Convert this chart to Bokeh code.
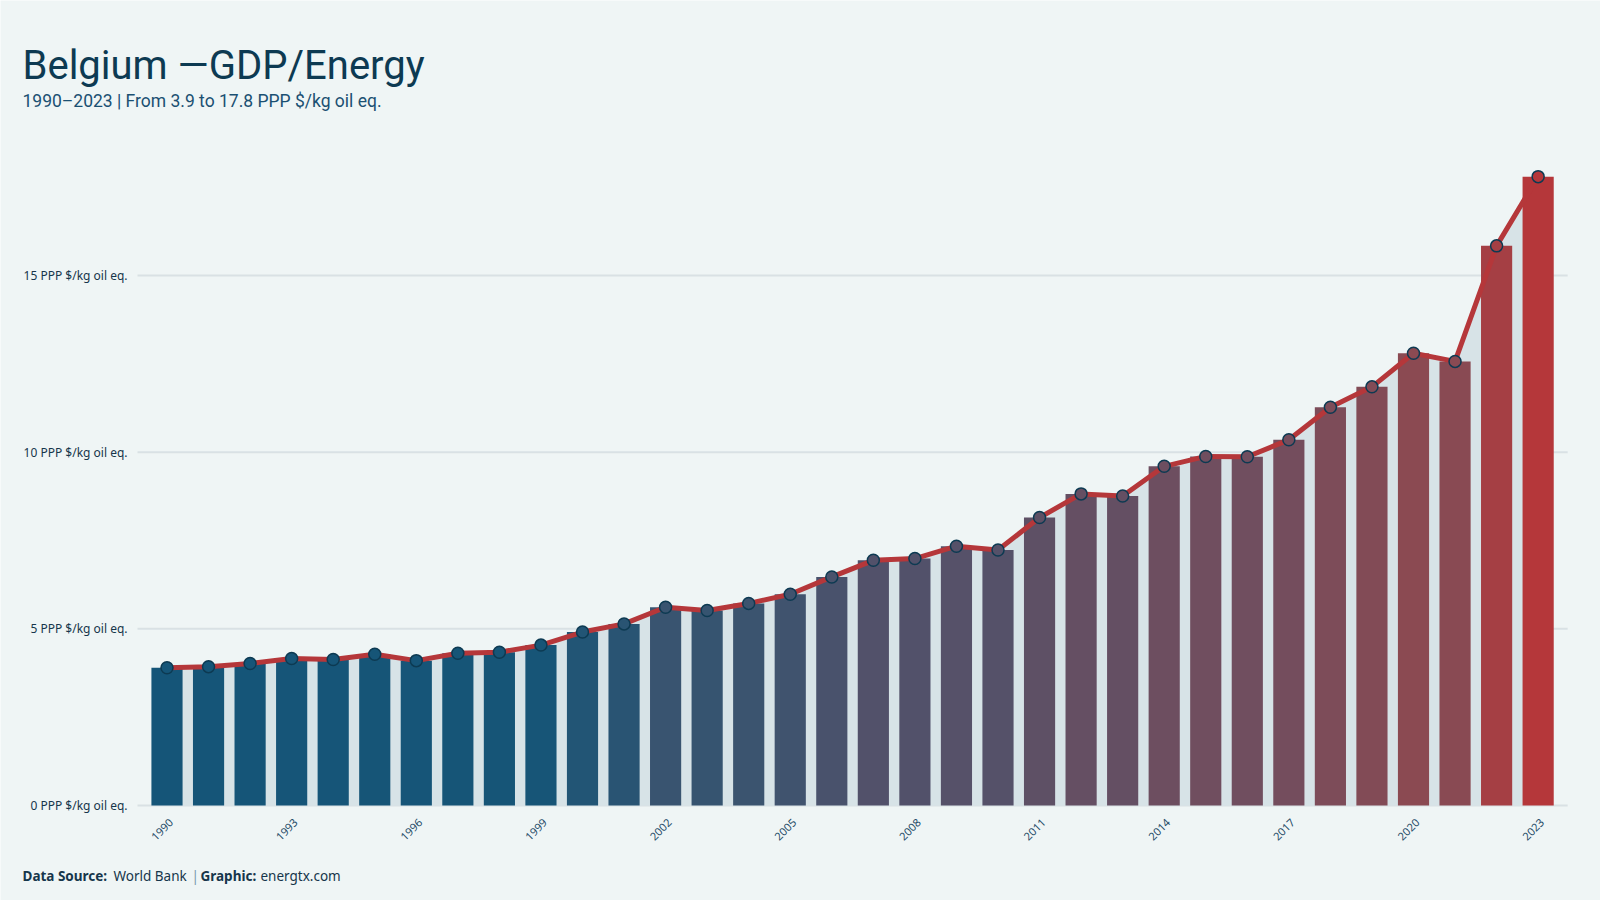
import numpy as np
from bokeh.plotting import figure
from bokeh.models import ColumnDataSource, Range1d, Label
from bokeh.core.properties import value
from bokeh.embed import file_html
from bokeh.resources import INLINE

# Belgium: GDP per unit of energy use (PPP $ per kg of oil equivalent)
years = list(range(1990, 2024))
gdp_per_energy = [3.90, 3.93, 4.02, 4.16, 4.13, 4.28, 4.10, 4.31, 4.34, 4.54,
                  4.91, 5.14, 5.61, 5.52, 5.72, 5.98, 6.47, 6.94, 6.99, 7.34,
                  7.23, 8.15, 8.82, 8.76, 9.60, 9.88, 9.87, 10.35, 11.27, 11.85,
                  12.80, 12.57, 15.84, 17.80]
y_ticks = [0, 5, 10, 15]
y_tick_labels = ["0 PPP $/kg oil eq.", "5 PPP $/kg oil eq.",
                 "10 PPP $/kg oil eq.", "15 PPP $/kg oil eq."]
x_ticks = list(range(1990, 2024, 3))
x_tick_labels = [str(y) for y in x_ticks]

title_text = "Belgium \u2014GDP/Energy"
subtitle_text = "1990\u20132023 | From 3.9 to 17.8 PPP $/kg oil eq."

BG = "#eff5f5"
NAVY = "#0d3a52"
RED = "#b5373a"
GRID = "#d9e1e4"
TICK_FONT = "Noto Sans"

# colour ramp (blue -> red) driven by the value of each bar
ramp_pos = [0.0, 0.05, 0.12, 0.22, 0.41, 0.64, 0.86, 1.0]
ramp_hex = ["#155578", "#175577", "#385470", "#52516a", "#6d4e60",
            "#8b4a52", "#a53f44", "#b5373a"]


def hex_to_rgb(h):
    return [int(h[i:i + 2], 16) for i in (1, 3, 5)]


ramp_rgb = np.array([hex_to_rgb(h) for h in ramp_hex], dtype=float)
vals = np.array(gdp_per_energy)
frac = (vals - vals.min()) / (vals.max() - vals.min())
bar_colors = []
for f in frac:
    rgb = [np.interp(f, ramp_pos, ramp_rgb[:, k]) for k in range(3)]
    bar_colors.append("#%02x%02x%02x" % tuple(int(round(c)) for c in rgb))

src = ColumnDataSource(dict(year=years, value=gdp_per_energy, color=bar_colors))

# The frame covers the whole page so headings, axis labels and the source
# line can all be placed inside it.
W, H = 1600, 900
PX_PER_YEAR = 41.55
PX_PER_UNIT = 35.33
ORIGIN_X = 166.5        # page x of the first year's centre
ORIGIN_Y = 805          # page y (from top) of the zero line
x0 = years[0] - ORIGIN_X / PX_PER_YEAR
y0 = -(H - ORIGIN_Y) / PX_PER_UNIT
PAD = 0.71              # plot area reaches this far beyond first/last year
x_lo, x_hi = years[0] - PAD, years[-1] + PAD

p = figure(width=W, height=H, output_backend="svg", toolbar_location=None,
           x_range=Range1d(x0, x0 + W / PX_PER_YEAR),
           y_range=Range1d(y0, y0 + H / PX_PER_UNIT), min_border=0)
p.background_fill_color = BG
p.border_fill_color = BG
p.outline_line_color = None
p.axis.visible = False
p.grid.visible = False

# horizontal reference lines at the value ticks
p.segment(x0=[x_lo] * len(y_ticks), x1=[x_hi] * len(y_ticks), y0=y_ticks,
          y1=y_ticks, line_color=GRID, line_width=2)

# shaded area under the trend line
p.varea(x="year", y1=0, y2="value", source=src, fill_color="#d7e3e7")
# bars
p.vbar(x="year", top="value", width=0.75, source=src, fill_color="color",
       line_color=None)
# trend line and markers
p.line(x="year", y="value", source=src, line_color=RED, line_width=5,
       line_join="round")
p.scatter(x="year", y="value", source=src, size=12, fill_color="color",
          line_color=NAVY, line_width=1.5)

# value axis labels
p.text(x=[x_lo] * len(y_ticks), y=y_ticks, text=y_tick_labels, x_offset=-10,
       text_align="right", text_baseline="middle", text_font=value(TICK_FONT),
       text_font_size="12px", text_color="#16364b")
# year labels, slanted
p.text(x=x_ticks, y=[0] * len(x_ticks), text=x_tick_labels, angle=np.pi / 4,
       x_offset=4, y_offset=15, text_align="right", text_baseline="middle",
       text_font=value(TICK_FONT), text_font_size="11px", text_color="#1d4a66")

# headings (screen offsets from the lower-left corner)
p.add_layout(Label(x=22, y=H - 65, x_units="screen", y_units="screen",
                   text=title_text, text_font="Roboto", text_font_size="40px",
                   text_color=NAVY, text_baseline="alphabetic"))
p.add_layout(Label(x=22, y=H - 100, x_units="screen", y_units="screen",
                   text=subtitle_text, text_font="Roboto", text_font_size="17.5px",
                   text_color="#1b5072", text_baseline="alphabetic"))

# source line
caption_parts = [("Data Source:", "bold", 22), ("World Bank", "normal", 113),
                 ("|", "normal", 191), ("Graphic:", "bold", 200),
                 ("energtx.com", "normal", 260)]
for txt, style, xo in caption_parts:
    p.add_layout(Label(x=xo, y=H - 875, x_units="screen", y_units="screen",
                       text=txt, text_font=TICK_FONT, text_font_size="13.5px",
                       text_font_style=style,
                       text_color="#7a9aab" if txt == "|" else "#16364b",
                       text_baseline="alphabetic"))

open("out.html", "w").write(file_html(p, INLINE))
